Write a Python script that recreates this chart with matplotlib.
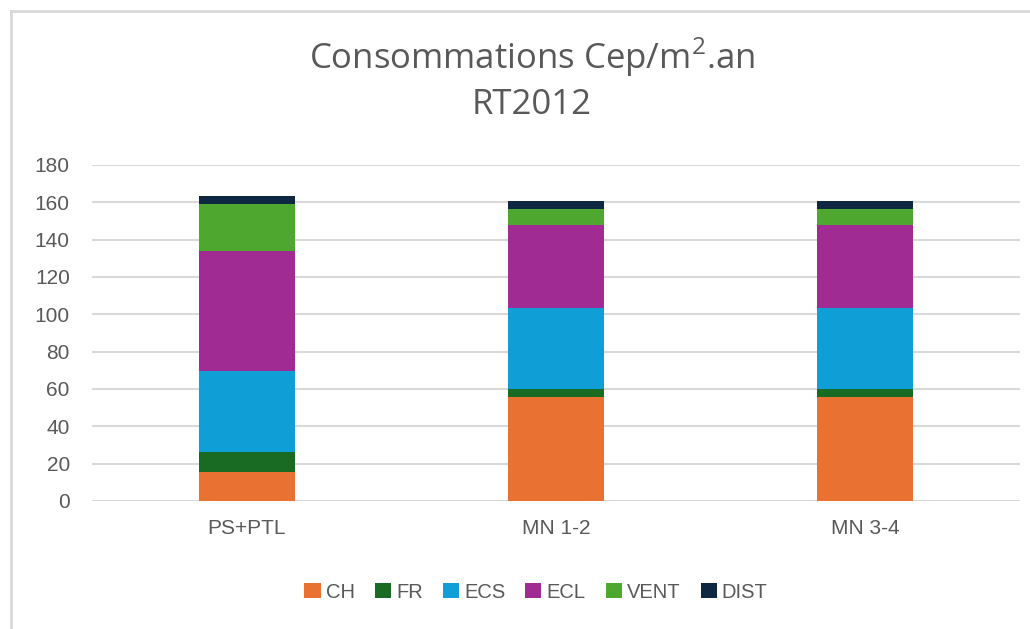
import numpy as np
import matplotlib.pyplot as plt
from matplotlib.lines import Line2D

categories = ["PS+PTL", "MN 1-2", "MN 3-4"]
series = ["CH", "FR", "ECS", "ECL", "VENT", "DIST"]
ch = [15.4, 55.6, 55.6]
fr = [11.0, 4.4, 4.4]
ecs = [43.3, 43.3, 43.3]
ecl = [64.0, 44.7, 44.7]
vent = [25.4, 8.6, 8.6]
dist = [4.4, 3.9, 3.9]
colors = ["#e97132", "#196b24", "#0f9ed5", "#a02b93", "#4ea72e", "#0e2841"]

W, H = 1030, 629
fig = plt.figure(figsize=(W / 100, H / 100), dpi=100)
ax = fig.add_axes([92 / W, (H - 501) / H, 928 / W, 336 / H])

x = np.arange(len(categories))
bottom = np.zeros(len(categories))
for name, vals, c in zip(series, [ch, fr, ecs, ecl, vent, dist], colors):
    ax.bar(x, vals, width=0.31, bottom=bottom, color=c, label=name, zorder=3)
    bottom += np.array(vals)

ax.set_xlim(-0.5, 2.5)
ax.set_ylim(0, 180)
ax.set_yticks(range(0, 181, 20))
ax.set_xticks(x)
ax.set_xticklabels(categories)
ax.yaxis.grid(True, color="#d9d9d9", linewidth=1.5, zorder=0)
for s in ax.spines.values():
    s.set_visible(False)
ax.tick_params(axis="both", length=0, labelsize=15, labelcolor="#595959",
               labelfontfamily="Liberation Sans")
ax.tick_params(axis="y", pad=16)
ax.tick_params(axis="x", pad=13)

fig.text(532 / W, 1 - 57 / H, "Consommations Cep/m$^\\mathregular{2}$.an", ha="center",
         va="center", fontsize=25, color="#595959", family="Open Sans")
fig.text(532 / W, 1 - 105 / H, "RT2012", ha="center", va="center",
         fontsize=25, color="#595959", family="Open Sans")

leg = fig.legend(loc="center", bbox_to_anchor=(536 / W, 1 - 592 / H), ncol=6,
                 frameon=False, handlelength=0.8, handleheight=0.8,
                 handletextpad=0.25, columnspacing=1.0,
                 prop={"family": "Liberation Sans", "size": 14.5})
for t in leg.get_texts():
    t.set_color("#595959")

# chart frame
fig.add_artist(Line2D([11 / W, 1], [1 - 11 / H, 1 - 11 / H], color="#d9d9d9", linewidth=2))
fig.add_artist(Line2D([11 / W, 11 / W], [0, 1 - 11 / H], color="#d9d9d9", linewidth=2))

fig.savefig("out.png", dpi=100)
